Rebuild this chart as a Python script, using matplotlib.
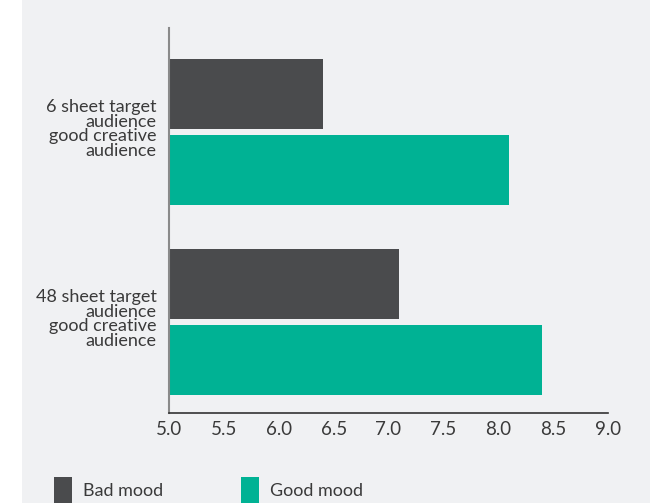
import matplotlib.pyplot as plt
from matplotlib.patches import Patch, Rectangle

plt.rcParams['font.family'] = ['Lato', 'DejaVu Sans']

# Mean mood scores per audience
categories = ['6 sheet target\naudience\ngood creative\naudience',
              '48 sheet target\naudience\ngood creative\naudience']
bad_mood = [6.4, 7.1]
good_mood = [8.1, 8.4]
series_names = ['Bad mood', 'Good mood']
x_ticks = [5.0, 5.5, 6.0, 6.5, 7.0, 7.5, 8.0, 8.5, 9.0]

dark = '#4a4b4d'
teal = '#00b294'
panel = '#f0f1f3'
text_col = '#3a3a3a'

fig = plt.figure(figsize=(6.5, 5.03), dpi=100)
fig.patch.set_facecolor('white')
fig.patches.append(Rectangle((22 / 650, 0), 1, 1, transform=fig.transFigure,
                             facecolor=panel, edgecolor='none', zorder=-10))

ax = fig.add_axes([169 / 650, 1 - 413 / 503, (608 - 169) / 650, (413 - 28) / 503])
ax.set_facecolor(panel)

pos = list(range(len(categories)))
h = 0.368
off = 0.2
ax.barh([p - off for p in pos], [v - 5 for v in bad_mood], left=5, height=h, color=dark)
ax.barh([p + off for p in pos], [v - 5 for v in good_mood], left=5, height=h, color=teal)

ax.set_xlim(5, 9)
ax.set_ylim(1.479, -0.547)
ax.set_xticks(x_ticks)
ax.set_xticklabels([f'{t:.1f}' for t in x_ticks], fontsize=13.5, color=text_col)
ax.set_yticks([p - 0.02 for p in pos])
ax.set_yticklabels(categories, fontsize=13, color=text_col, linespacing=0.88)
ax.tick_params(length=0, pad=9)
ax.tick_params(axis='x', pad=6)

for s in ['top', 'right']:
    ax.spines[s].set_visible(False)
ax.spines['left'].set_color('#8a8a8a')
ax.spines['left'].set_linewidth(1.5)
ax.spines['bottom'].set_color('#333333')
ax.spines['bottom'].set_linewidth(1.2)

handles = [Patch(facecolor=dark), Patch(facecolor=teal)]
fig.legend(handles, series_names, loc='lower left', bbox_to_anchor=(38 / 650, -16 / 503),
           ncol=2, frameon=False, fontsize=13, handlelength=1.0, handleheight=1.8,
           handletextpad=0.6, columnspacing=4.3, labelcolor=text_col)

fig.savefig('out.png', dpi=100, facecolor=fig.get_facecolor())
